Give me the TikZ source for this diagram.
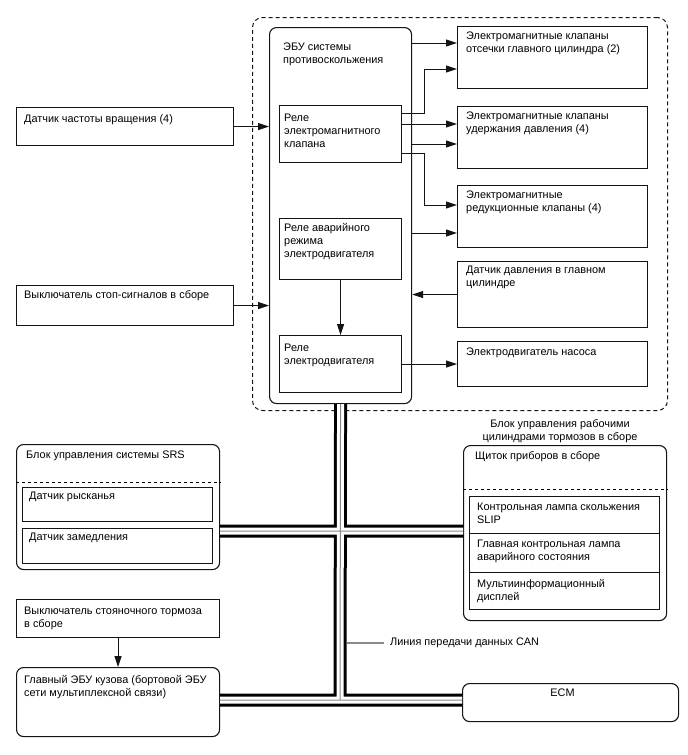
\documentclass[tikz,border=0pt]{standalone}
\usepackage{fontspec}
\setmainfont{Liberation Sans}
\usetikzlibrary{arrows.meta}
\usepackage{xcolor}
\definecolor{ink}{HTML}{141414}
\definecolor{wire}{HTML}{8A8A8A}

\begin{document}
\begin{tikzpicture}[x=1pt,y=-1pt,
    font=\fontsize{10.9}{13}\selectfont,
    box/.style 2 args={draw=ink,line width=1.1pt,minimum width=#1pt,minimum height=#2pt,anchor=north west,inner sep=0pt},
    rbox/.style 2 args={box={#1}{#2},rounded corners=7pt},
    txt/.style 2 args={anchor=north west,inner sep=0pt,align=left,xshift=#1pt,yshift=-#2pt},
    sig/.style={draw=ink,line width=1pt,-{Triangle[length=11pt,width=7pt]}},
    busout/.style={line width=13pt,black},
    busin/.style={line width=7pt,white},
    buswire/.style={line width=1pt,wire}]
  \useasboundingbox (0,0) rectangle (688,755);

  % brake actuator unit
  \node[box={415}{393},dashed,dash pattern=on 4pt off 3pt,line width=1pt,rounded corners=10pt] (unit) at (252,17) {};
  \node[anchor=north,align=center,inner sep=0pt] (unitlbl) at (560,419) {Блок управления рабочими\\цилиндрами тормозов в сборе};

  \node[rbox={142}{376},label={[txt={14}{16}]north west:ЭБУ системы\\противоскольжения}] (ecu) at (269,27) {};
  \node[box={122}{57},label={[txt={5}{9}]north west:Реле\\электромагнитного\\клапана}] (relv) at (279,105) {};
  \node[box={122}{61},label={[txt={5}{5}]north west:Реле аварийного\\режима\\электродвигателя}] (relf) at (279,218) {};
  \node[box={122}{57},label={[txt={5}{9}]north west:Реле\\электродвигателя}] (relm) at (279,335) {};

  \node[box={190}{62},label={[txt={9}{6}]north west:Электромагнитные клапаны\\отсечки главного цилиндра (2)}] (v1) at (457,26) {};
  \node[box={190}{62},label={[txt={9}{6}]north west:Электромагнитные клапаны\\удержания давления (4)}] (v2) at (457,106) {};
  \node[box={190}{62},label={[txt={9}{6}]north west:Электромагнитные\\редукционные клапаны (4)}] (v3) at (457,185) {};
  \node[box={190}{66},label={[txt={9}{5}]north west:Датчик давления в главном\\цилиндре}] (psens) at (457,261) {};
  \node[box={190}{45},label={[txt={9}{7}]north west:Электродвигатель насоса}] (pump) at (457,341) {};

  % inputs on the left
  \node[box={217}{38},label={[txt={8}{7}]north west:Датчик частоты вращения (4)}] (speed) at (16,107) {};
  \node[box={217}{40},label={[txt={8}{5}]north west:Выключатель стоп-сигналов в сборе}] (stop) at (16,285) {};

  \draw[sig] ([yshift=-16pt]ecu.north east) -- ([yshift=-17pt]v1.north west);
  \draw[sig] ([yshift=-8pt]relv.north east) -- ++(22,0) |- ([yshift=-43pt]v1.north west);
  \draw[sig] ([yshift=-19pt]relv.north east) -- ([yshift=-18pt]v2.north west);
  \draw[sig] ([yshift=-117pt]ecu.north east) -- ([yshift=-38pt]v2.north west);
  \draw[sig] ([yshift=-48pt]relv.north east) -- ++(22,0) |- ([yshift=-20pt]v3.north west);
  \draw[sig] ([yshift=-206pt]ecu.north east) -- ([yshift=-48pt]v3.north west);
  \draw[sig] (psens.west) -- (ecu.east |- psens.west);
  \draw[sig] (relf.south) -- (relm.north);
  \draw[sig] (relm.east) -- (pump.west);
  \draw[sig] (speed.east) -- (ecu.west |- speed.east);
  \draw[sig] (stop.east) -- (ecu.west |- stop.east);

  % SRS
  \node[rbox={203}{125},label={[txt={10}{7}]north west:Блок управления системы SRS}] (srs) at (16,444) {};
  \draw[dashed,line width=1pt] ([yshift=-38pt]srs.north west) -- ([yshift=-38pt]srs.north east);
  \node[box={190}{34},line width=1pt,label={[txt={7}{5}]north west:Датчик рысканья}] (yaw) at (22,487) {};
  \node[box={190}{35},line width=1pt,label={[txt={7}{5}]north west:Датчик замедления}] (decel) at (22,528) {};

  % combination meter
  \node[rbox={203}{175},label={[txt={12}{6}]north west:Щиток приборов в сборе}] (meter) at (463,445) {};
  \draw[dashed,line width=1pt] ([yshift=-44pt]meter.north west) -- ([yshift=-44pt]meter.north east);
  \node[box={190}{37},line width=1pt,label={[txt={8}{7}]north west:Контрольная лампа скольжения\\SLIP}] (slip) at (469,496) {};
  \node[box={190}{39},line width=1pt,label={[txt={8}{7}]north west:Главная контрольная лампа\\аварийного состояния}] (master) at (469,533) {};
  \node[box={190}{37},line width=1pt,label={[txt={8}{7}]north west:Мультиинформационный\\дисплей}] (mid) at (469,572) {};

  % body
  \node[box={203}{38},label={[txt={8}{8}]north west:Выключатель стояночного тормоза\\в сборе}] (park) at (16,599) {};
  \node[rbox={203}{69},label={[txt={8}{8}]north west:Главный ЭБУ кузова (бортовой ЭБУ\\сети мультиплексной связи)}] (body) at (16,667) {};
  \draw[sig] (park.south) -- (body.north);

  \node[rbox={216}{38},label={[anchor=north,inner sep=0pt,xshift=-8pt,yshift=-6pt]north:ECM}] (ecm) at (462,683) {};

  % CAN bus
  \coordinate (j1) at (340,531);
  \coordinate (j2) at (340,700);
  \foreach \layer in {busout,busin,buswire}
    \draw[\layer] (ecu.south) -- (j2)
      (srs.east |- j1) -- (meter.west |- j1)
      (body.east |- j2) -- (ecm.west |- j2);

  \coordinate (cantap) at (347,643);
  \node[anchor=west,inner sep=0pt,inner xsep=6pt] (canlbl) at (384,643) {Линия передачи данных CAN};
  \draw[wire,line width=1.2pt] (cantap) -- (canlbl.west);
\end{tikzpicture}
\end{document}
